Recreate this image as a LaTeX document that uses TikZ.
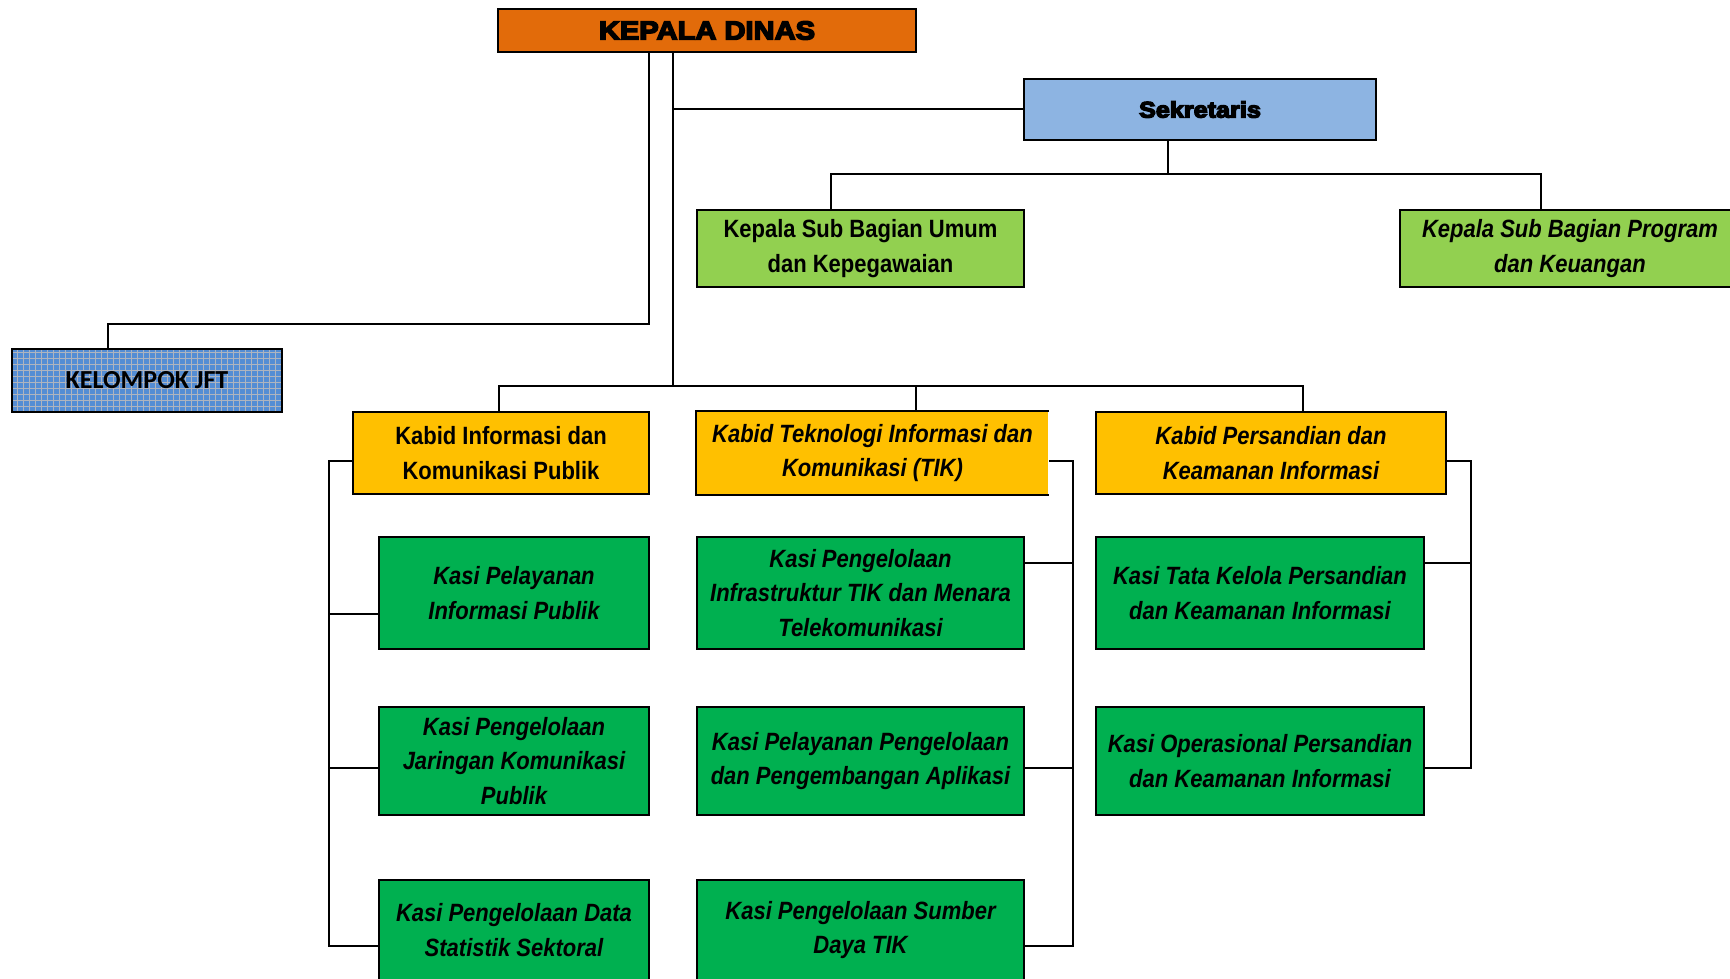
\documentclass[tikz,border=0pt]{standalone}
\usepackage{fontspec}
\setmainfont{Liberation Sans}
\newfontfamily\narrowfont[FakeStretch=0.88]{Liberation Sans}
\newfontfamily\heavyfont[UprightFont={* Bold},FakeStretch=1.12,FakeBold=6]{Liberation Sans}
\newfontfamily\jftfont{Carlito}
\definecolor{Kadis}{RGB}{226,107,10}
\definecolor{Sekre}{RGB}{141,180,226}
\definecolor{Subbag}{RGB}{146,208,80}
\definecolor{Kabid}{RGB}{255,192,0}
\definecolor{Kasi}{RGB}{0,176,80}
\definecolor{Jft}{RGB}{84,141,212}
\definecolor{JftGrid}{RGB}{175,180,190}
\tikzset{
  kotak/.style={draw=black, line width=2pt, inner sep=0pt, align=center},
  teks/.style={font=\narrowfont\bfseries\fontsize{25}{34.5}\selectfont},
  miring/.style={font=\narrowfont\bfseries\itshape\fontsize{25}{34.5}\selectfont},
  garis/.style={line width=2pt}
}

\begin{document}
\begin{tikzpicture}[x=1pt,y=-1pt]
  \useasboundingbox (0,0) rectangle (1730,979);

  \node[kotak, fill=Kadis, minimum width=418, minimum height=43,
        font=\heavyfont\fontsize{26}{30}\selectfont] (kd) at (707,30.5) {KEPALA DINAS};
  \node[kotak, fill=Sekre, minimum width=352, minimum height=61,
        font=\heavyfont\fontsize{22.5}{30}\selectfont] (sek) at (1200,109.5) {Sekretaris};

  \node[kotak, teks, fill=Subbag, minimum width=327, minimum height=77] (umum) at (860.5,248.5) {Kepala Sub Bagian Umum\\dan Kepegawaian};
  \node[kotak, miring, fill=Subbag, minimum width=340, minimum height=77] (prog) at (1570,248.5) {Kepala Sub Bagian Program\\dan Keuangan};

  \node[kotak, fill=Jft, minimum width=270, minimum height=63,
        font=\jftfont\bfseries\fontsize{26}{30}\selectfont,
        path picture={\draw[JftGrid, line width=1.1pt] (path picture bounding box.south west) grid[step=6pt] (path picture bounding box.north east);}] (jft) at (147,380.5) {KELOMPOK JFT};

  % kabid
  \node[kotak, teks, fill=Kabid, minimum width=296, minimum height=82] (kb1) at (501,453) {Kabid Informasi dan\\Komunikasi Publik};
  \node[kotak, miring, draw=none, fill=Kabid, minimum width=351, minimum height=82] (kb2) at (872.5,453) {Kabid Teknologi Informasi dan\\Komunikasi (TIK)};
  \draw[line width=2pt] (kb2.north east) -- (kb2.north west) -- (kb2.south west) -- (kb2.south east);
  \node[kotak, miring, fill=Kabid, minimum width=350, minimum height=82] (kb3) at (1271,453) {Kabid Persandian dan\\Keamanan Informasi};

  % kasi
  \node[kotak, miring, fill=Kasi, minimum width=270, minimum height=112] (ks11) at (514,593) {Kasi Pelayanan\\Informasi Publik};
  \node[kotak, miring, fill=Kasi, minimum width=270, minimum height=108] (ks12) at (514,761) {Kasi Pengelolaan\\Jaringan Komunikasi\\Publik};
  \node[kotak, miring, fill=Kasi, minimum width=270, minimum height=100] (ks13) at (514,930) {Kasi Pengelolaan Data\\Statistik Sektoral};

  \node[kotak, miring, fill=Kasi, minimum width=327, minimum height=112] (ks21) at (860.5,593) {Kasi Pengelolaan\\Infrastruktur TIK dan Menara\\Telekomunikasi};
  \node[kotak, miring, fill=Kasi, minimum width=327, minimum height=108] (ks22) at (860.5,761) {Kasi Pelayanan Pengelolaan\\dan Pengembangan Aplikasi};
  \node[kotak, miring, fill=Kasi, minimum width=327, minimum height=100] (ks23) at (860.5,930) {Kasi Pengelolaan Sumber\\Daya TIK};

  \node[kotak, miring, fill=Kasi, minimum width=328, minimum height=112] (ks31) at (1260,593) {Kasi Tata Kelola Persandian\\dan Keamanan Informasi};
  \node[kotak, miring, fill=Kasi, minimum width=328, minimum height=108] (ks32) at (1260,761) {Kasi Operasional Persandian\\dan Keamanan Informasi};

  % garis
  \coordinate (bus) at (673,386);
  \coordinate (sbus) at (1168,174);
  \coordinate (jbend) at (108,324);
  \draw[garis] ([xshift=-34pt]kd.south) -- (bus);
  \draw[garis] (bus |- sek.west) -- (sek.west);
  \draw[garis] ([xshift=-58pt]kd.south) |- (jbend) -- (jbend |- jft.north);
  \draw[garis] (sbus |- sek.south) -- (sbus);
  \draw[garis] ([xshift=-30pt]umum.north) |- (sbus) -| ([xshift=-29pt]prog.north);
  \draw[garis] ([xshift=-2pt]kb1.north) |- (bus) -| ([xshift=32pt]kb3.north);
  \draw[garis] ([xshift=43.5pt]kb2.north |- bus) -- ([xshift=43.5pt]kb2.north);

  \draw[garis] ([yshift=-8pt]kb1.west) -| ([xshift=-49pt,yshift=-16pt]ks13.west) -- ([yshift=-16pt]ks13.west);
  \draw[garis] ([yshift=-21pt]ks11.west) -- +(-49,0);
  \draw[garis] ([yshift=-7pt]ks12.west) -- +(-49,0);

  \draw[garis] ([yshift=-8pt]kb2.east) -| ([xshift=48pt,yshift=-16pt]ks23.east) -- ([yshift=-16pt]ks23.east);
  \draw[garis] ([yshift=30pt]ks21.east) -- +(48,0);
  \draw[garis] ([yshift=-7pt]ks22.east) -- +(48,0);

  \draw[garis] ([yshift=-8pt]kb3.east) -| ([xshift=46pt,yshift=-7pt]ks32.east) -- ([yshift=-7pt]ks32.east);
  \draw[garis] ([yshift=30pt]ks31.east) -- +(46,0);
\end{tikzpicture}
\end{document}
